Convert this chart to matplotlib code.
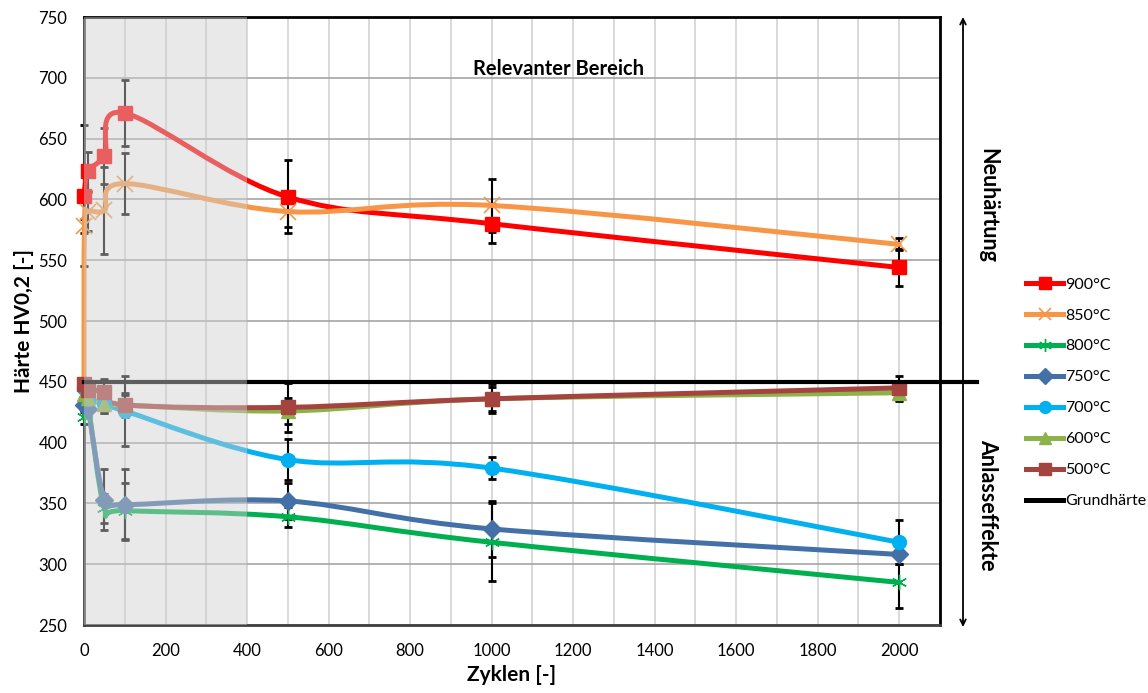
import numpy as np
import matplotlib
matplotlib.use("Agg")
import matplotlib.pyplot as plt
from matplotlib.path import Path
from matplotlib.patches import PathPatch
from matplotlib.lines import Line2D

plt.rcParams['font.family'] = ['Lato', 'DejaVu Sans']

# --- data ---
grundhaerte = 450
cycles = [0, 10, 50, 100, 500, 1000, 2000]
cycles_850 = [0, 1, 10, 50, 100, 500, 1000, 2000]

hv_900 = [603, 623, 636, 671, 602, 580, 544]
hv_850 = [448, 578, 590, 591, 613, 590, 595, 563]
hv_800 = [421, 430, 346, 344, 339, 318, 285]
hv_750 = [431, 428, 353, 349, 352, 329, 308]
hv_700 = [445, 436, 432, 426, 386, 379, 318]
hv_600 = [440, 437, 432, 431, 426, 436, 441]
hv_500 = [448, 443, 442, 431, 429, 436, 445]

err_900 = [58, 16, 23, 27, 30, 16, 15]
err_850 = [0, 6, 16, 36, 25, 13, 22, 5]
err_800 = [6, 6, 12, 23, 8, 32, 21]
err_750 = [6, 6, 25, 29, 15, 23, 8]
err_700 = [5, 5, 8, 29, 17, 9, 18]
err_600 = [5, 5, 8, 8, 11, 10, 7]
err_500 = [5, 5, 10, 10, 20, 12, 10]

series = [
    ('900°C', cycles, hv_900, err_900, '#FF0000', 's', 10, 1),
    ('850°C', cycles_850, hv_850, err_850, '#F79646', 'x', 11, 1.2),
    ('800°C', cycles, hv_800, err_800, '#00B050', (6, 2, 0), 11, 1.0),
    ('750°C', cycles, hv_750, err_750, '#4470A8', 'D', 9, 1),
    ('700°C', cycles, hv_700, err_700, '#00B0F0', 'o', 10, 1),
    ('600°C', cycles, hv_600, err_600, '#8CB24A', '^', 10, 1),
    ('500°C', cycles, hv_500, err_500, '#A5433F', 's', 10, 1),
]


def smooth_path(xs, ys):
    # Excel-like smoothed line: Catmull-Rom converted to cubic Bezier segments
    pts = np.column_stack([xs, ys]).astype(float)
    n = len(pts)
    verts = [pts[0]]
    codes = [Path.MOVETO]
    for i in range(n - 1):
        p0 = pts[max(i - 1, 0)]
        p1 = pts[i]
        p2 = pts[i + 1]
        p3 = pts[min(i + 2, n - 1)]
        verts += [p1 + (p2 - p0) / 6, p2 - (p3 - p1) / 6, p2]
        codes += [Path.CURVE4] * 3
    return Path(verts, codes)


fig = plt.figure(figsize=(11.48, 6.93), dpi=100)
ax = fig.add_axes([84 / 1148, 1 - 625 / 693, 856 / 1148, 608 / 693])

ax.set_xlim(0, 2100)
ax.set_ylim(250, 750)
ax.set_xticks(range(0, 2001, 200))
ax.set_xticks(range(0, 2101, 100), minor=True)
ax.set_yticks(range(250, 751, 50))
ax.grid(True, which='major', axis='y', color='#A6A6A6', lw=1.2, zorder=0)
ax.grid(True, which='both', axis='x', color='#D3D3D3', lw=1.2, zorder=0)
ax.tick_params(which='both', length=0, labelsize=12)
ax.tick_params(axis='x', pad=13)
ax.tick_params(axis='y', pad=12)
for s in ax.spines.values():
    s.set_linewidth(2)
    s.set_color('black')
ax.spines['left'].set_color('#404040')
ax.spines['bottom'].set_color('#404040')

handles = []
for label, xs, ys, err, color, marker, ms, mew in series:
    ax.errorbar(xs, ys, yerr=err, fmt='none', ecolor='black', elinewidth=1.5,
                capsize=3, capthick=2, zorder=2, clip_on=False)
    ax.add_patch(PathPatch(smooth_path(xs, ys), fill=False, edgecolor=color,
                           lw=3.6, capstyle='round', joinstyle='round',
                           zorder=3, clip_on=False))
    mx, my = (xs[1:], ys[1:]) if label == '850°C' else (xs, ys)
    ax.plot(mx, my, linestyle='none', marker=marker, ms=ms, color=color,
            mec=color, mew=mew, zorder=4, clip_on=False)
    handles.append(Line2D([], [], color=color, lw=3.6, marker=marker,
                          ms=ms * 0.85, mew=mew))

# base hardness line, reaching out to the arrow on the right
ax.axhline(grundhaerte, xmin=0, xmax=(977 - 84) / 856,
           color='black', lw=3, zorder=5, clip_on=False)
handles.append(Line2D([], [], color='black', lw=3.6))

# translucent box over the first 400 cycles
ax.axvspan(0, 400, color=(207 / 255, 207 / 255, 207 / 255), alpha=0.46,
           lw=0, zorder=10)

ax.text(0.554, 0.914, 'Relevanter Bereich', transform=ax.transAxes,
        ha='center', va='center', fontsize=14.5, fontweight='bold')

ax.set_xlabel('Zyklen [-]', fontsize=15, fontweight='bold', labelpad=4)
ax.set_ylabel('Härte HV0,2 [-]', fontsize=15, fontweight='bold', labelpad=3)

# double arrow with the two regimes
ax.annotate('', xy=(963 / 1148, 1 - 17 / 693), xytext=(963 / 1148, 1 - 627 / 693),
            xycoords='figure fraction', textcoords='figure fraction',
            arrowprops=dict(arrowstyle='<->', lw=1.3, color='black',
                            shrinkA=0, shrinkB=0))
fig.text(988 / 1148, 1 - 205 / 693, 'Neuhärtung', rotation=-90, ha='center',
         va='center', fontsize=15.5, fontweight='bold')
fig.text(988 / 1148, 1 - 505 / 693, 'Anlasseffekte', rotation=-90, ha='center',
         va='center', fontsize=15.5, fontweight='bold')

labels = [s[0] for s in series] + ['Grundhärte']
fig.legend(handles, labels, loc='upper left',
           bbox_to_anchor=(1020 / 1148, 1 - 271 / 693), frameon=False,
           fontsize=11.5, handlelength=2.3, handletextpad=0.15,
           labelspacing=1.05, borderaxespad=0)

fig.savefig('out.png', dpi=100)
